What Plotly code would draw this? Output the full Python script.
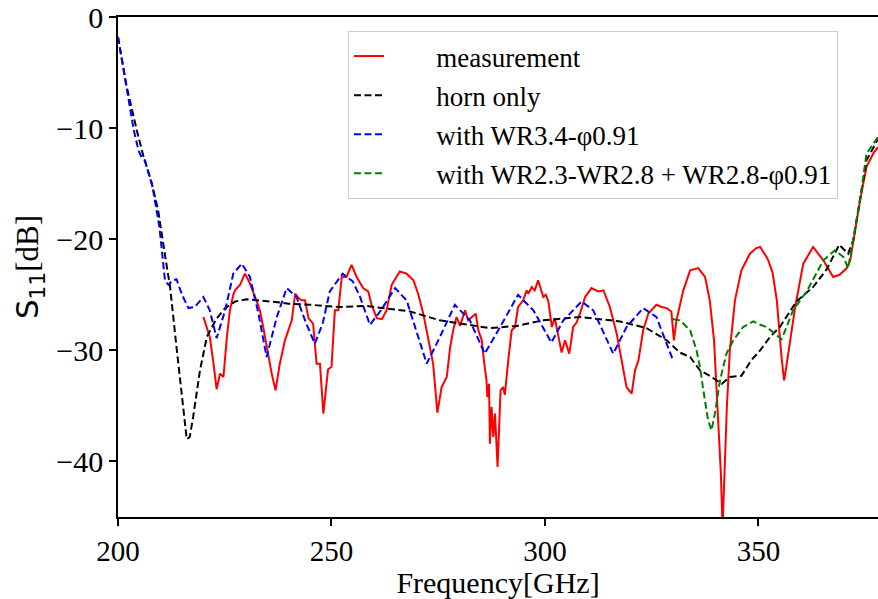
import plotly.graph_objects as go

# horn only
horn_f = [200.0, 202.0, 204.4, 206.0, 207.8, 209.4, 211.2, 212.2, 213.7, 215.0, 216.1, 216.8, 217.6, 219.2,
          220.8, 223.0, 225.1, 227.5, 230.1, 235.6, 240.0, 245.0, 252.0, 258.0, 262.0, 268.4, 275.4, 281.7,
          287.1, 293.4, 299.6, 308.2, 317.6, 323.8, 328.5, 331.6, 334.0, 336.3, 338.6, 341.4, 343.3, 346.0,
          348.3, 350.4, 352.7, 355.0, 358.9, 362.8, 366.0, 368.9, 370.3, 371.0, 372.2, 373.8, 375.3, 377.7, 378.0]
horn_db = [-1.8, -6.2, -10.2, -12.6, -14.8, -17.4, -21.9, -24.3, -29.7, -34.5, -38.0, -37.8, -36.0, -31.8,
           -28.8, -27.2, -26.2, -25.6, -25.4, -25.6, -25.8, -25.9, -26.1, -26.0, -26.2, -26.5, -27.3, -27.7,
           -28.0, -27.8, -27.3, -27.0, -27.4, -28.0, -29.1, -30.2, -30.6, -31.8, -32.3, -33.0, -32.4, -32.3,
           -30.9, -30.0, -28.8, -27.9, -25.6, -24.3, -22.7, -20.5, -21.0, -21.3, -20.1, -16.5, -12.9, -11.2, -11.0]

# with WR3.4-phi0.91
wr34_f = [200.0, 202.0, 203.7, 204.8, 205.5, 206.3, 208.1, 209.7, 210.5, 211.0, 211.8, 212.8, 213.7, 215.0,
          216.5, 218.0, 220.0, 221.5, 223.1, 225.1, 227.0, 229.0, 230.9, 232.9, 234.8, 237.2, 239.5, 241.8,
          244.0, 246.1, 248.0, 249.6, 252.6, 255.0, 256.7, 259.0, 261.4, 264.9, 267.6, 270.0, 272.3, 275.4,
          278.9, 282.4, 285.9, 289.5, 293.7, 297.3, 301.5, 304.3, 308.6, 311.3, 316.0, 319.1, 323.0, 326.1, 330.0]
wr34_db = [-1.8, -6.5, -10.2, -12.0, -12.6, -12.9, -15.3, -18.9, -21.5, -23.7, -24.1, -23.7, -23.6, -25.0,
           -26.2, -26.1, -25.2, -26.4, -28.9, -26.4, -23.1, -22.2, -23.4, -26.7, -30.6, -27.0, -24.4, -25.2,
           -27.5, -29.4, -27.5, -24.7, -23.1, -23.8, -25.2, -27.7, -26.5, -24.4, -25.5, -28.5, -31.2, -28.8,
           -25.9, -27.3, -30.3, -27.9, -25.0, -26.4, -29.3, -27.3, -25.6, -26.4, -30.3, -27.9, -26.2, -27.0, -30.9]

# with WR2.3-WR2.8 + WR2.8-phi0.91
wr28_f = [330.0, 331.6, 333.2, 334.0, 335.5, 336.3, 337.1, 338.2, 339.0, 339.8, 341.0, 342.5, 344.1, 346.4,
          348.8, 350.4, 351.9, 353.5, 355.4, 356.5, 358.1, 361.3, 365.2, 367.9, 369.9, 371.0, 372.5, 373.8,
          375.3, 377.7, 378.0]
wr28_db = [-27.2, -27.3, -27.9, -28.2, -30.0, -31.5, -33.6, -36.3, -37.2, -35.7, -32.7, -30.3, -29.1, -27.9,
           -27.4, -27.7, -27.9, -28.4, -29.0, -28.0, -26.4, -24.7, -21.9, -21.0, -21.6, -22.6, -19.5, -16.5,
           -12.3, -10.9, -10.8]

# measurement
meas_f = [220.0, 221.0, 221.5, 222.3, 223.1, 223.9, 224.7, 225.5, 226.2, 227.0, 227.4, 228.6, 229.7, 230.3,
          230.9, 232.5, 233.3, 234.0, 235.0, 236.0, 236.9, 237.9, 239.1, 240.2, 240.7, 241.5, 242.3, 243.0,
          243.8, 244.6, 245.7, 246.5, 247.3, 248.1, 249.2, 250.0, 250.8, 251.6, 252.4, 253.5, 254.7, 255.9,
          257.4, 258.6, 259.4, 260.6, 261.8, 262.9, 264.1, 266.0, 267.6, 269.2, 270.3, 271.5, 272.7, 273.8,
          274.8, 275.8, 277.0, 277.8, 278.5, 279.3, 280.1, 280.9, 281.3, 282.0, 283.0, 283.8, 284.4, 285.2,
          285.7, 286.3, 286.5, 286.9, 287.1, 287.5, 287.9, 288.3, 288.9, 289.3, 289.6, 290.2, 290.6, 291.4,
          292.2, 293.0, 293.7, 294.9, 295.7, 296.1, 296.9, 297.6, 298.4, 299.6, 300.2, 300.8, 301.6, 302.3,
          303.1, 303.9, 304.7, 305.7, 306.6, 307.4, 308.2, 309.4, 310.9, 312.5, 313.7, 315.2, 316.8, 318.0,
          319.1, 320.3, 321.1, 321.9, 323.0, 324.2, 326.1, 327.3, 328.5, 329.6, 330.2, 330.8, 332.4, 334.0,
          335.9, 337.5, 338.6, 339.6, 340.4, 341.2, 341.6, 342.1, 342.6, 343.3, 344.5, 346.0, 348.0, 349.5,
          350.4, 351.9, 352.3, 353.3, 354.3, 355.4, 356.0, 356.2, 357.0, 358.6, 360.5, 362.8, 365.2, 366.5,
          367.5, 369.0, 370.7, 371.5, 372.5, 373.8, 375.3, 377.0, 378.0]
meas_db = [-27.0, -28.2, -28.8, -31.0, -33.5, -32.1, -32.4, -28.8, -26.4, -25.0, -24.6, -24.1, -23.1, -23.5,
           -24.0, -25.6, -26.5, -27.9, -30.0, -32.1, -33.6, -31.2, -29.1, -27.8, -27.3, -24.9, -25.3, -25.5,
           -25.5, -27.1, -27.6, -31.2, -31.2, -35.7, -31.7, -31.5, -26.4, -26.4, -23.4, -23.4, -22.3, -23.4,
           -24.4, -24.7, -25.9, -27.1, -27.2, -26.4, -24.1, -22.9, -23.1, -23.7, -24.9, -26.7, -29.1, -31.2,
           -35.6, -33.3, -32.4, -29.7, -28.2, -27.0, -27.8, -26.7, -26.4, -27.3, -27.0, -26.7, -28.2, -29.1,
           -30.9, -32.7, -34.2, -33.0, -38.4, -35.1, -37.8, -35.7, -40.5, -36.9, -33.6, -33.3, -34.0, -30.9,
           -28.2, -27.9, -26.1, -25.5, -24.6, -24.9, -24.3, -24.6, -23.7, -25.2, -25.0, -25.6, -27.9, -27.1,
           -28.5, -30.2, -29.1, -30.3, -27.9, -27.5, -26.7, -25.2, -24.4, -24.7, -24.6, -26.1, -28.5, -31.2,
           -33.3, -33.9, -31.8, -30.9, -28.2, -26.7, -25.9, -26.1, -26.2, -26.5, -29.1, -27.3, -24.6, -22.8,
           -22.6, -23.4, -25.5, -29.1, -35.1, -41.1, -46.0, -41.1, -35.1, -30.0, -25.5, -22.8, -21.3, -20.8,
           -20.7, -21.6, -21.9, -23.0, -25.5, -30.6, -32.7, -32.3, -30.3, -26.1, -22.2, -20.7, -21.9, -22.8,
           -23.4, -23.2, -22.6, -21.9, -19.5, -16.5, -13.5, -12.2, -11.7]

x_ticks = [200, 250, 300, 350]
y_ticks = [0, -10, -20, -30, -40]
y_tick_text = ["0", "−10", "−20", "−30", "−40"]
series_names = ["measurement", "horn only", "with WR3.4-φ0.91", "with WR2.3-WR2.8 + WR2.8-φ0.91"]

SERIF = "Liberation Serif"
DASH = "7px,3.5px"
PAD = "\u00a0" * 7

fig = go.Figure()
fig.add_trace(go.Scatter(x=meas_f, y=meas_db, mode="lines", name=PAD + series_names[0], legendgroup="a",
                         line=dict(color="#ff0000", width=2)))
fig.add_trace(go.Scatter(x=horn_f, y=horn_db, mode="lines", name=PAD + series_names[1], legendgroup="b",
                         line=dict(color="#000000", width=2, dash=DASH)))
fig.add_trace(go.Scatter(x=wr34_f, y=wr34_db, mode="lines", name=PAD + series_names[2], legendgroup="c",
                         line=dict(color="#0000ff", width=2, dash=DASH)))
fig.add_trace(go.Scatter(x=wr28_f, y=wr28_db, mode="lines", name=PAD + series_names[3],
                         legendgroup="d", line=dict(color="#008000", width=2, dash=DASH)))

fig.update_layout(
    width=878, height=599,
    margin=dict(l=118, r=0, t=17, b=82),
    paper_bgcolor="white", plot_bgcolor="white",
    font=dict(family=SERIF, size=27, color="black"),
    showlegend=True,
    legend=dict(x=0.3026, y=0.972, xanchor="left", yanchor="top",
                bgcolor="rgba(255,255,255,0.8)", bordercolor="#cccccc", borderwidth=1,
                font=dict(family=SERIF, size=27, color="black"),
                traceorder="grouped", tracegroupgap=1),
    xaxis=dict(range=[200, 378], tickvals=x_ticks, ticktext=[str(v) for v in x_ticks],
               showgrid=False, zeroline=False, showline=True, linecolor="black", linewidth=1.6,
               mirror=True, ticks="outside", ticklen=7, tickwidth=1.6, tickcolor="black",
               tickfont=dict(family=SERIF, size=29, color="black"),
               title=dict(text="Frequency[GHz]", font=dict(family=SERIF, size=30, color="black"), standoff=4)),
    yaxis=dict(range=[-45, 0], tickvals=y_ticks, ticktext=y_tick_text,
               showgrid=False, zeroline=False, showline=True, linecolor="black", linewidth=1.6,
               ticks="outside", ticklen=7, tickwidth=1.6, tickcolor="black",
               tickfont=dict(family=SERIF, size=30, color="black"),
               title=dict(text="<span style='font-family:DejaVu Sans'>S<sub>11</sub></span>[dB]",
                          font=dict(family=SERIF, size=31, color="black"), standoff=8)),
)

fig.write_html("out.html")
